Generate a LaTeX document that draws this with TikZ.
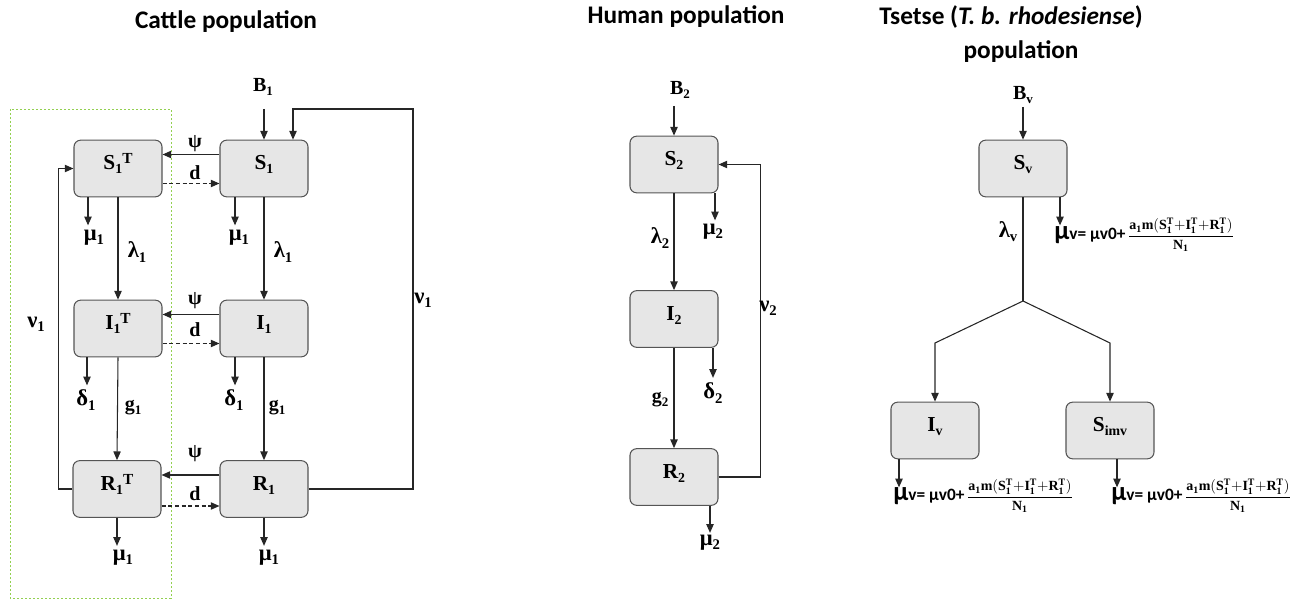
\documentclass[tikz,border=0pt]{standalone}
\usepackage{fontspec}
\setmainfont{Liberation Serif}
\newfontfamily\titlefont{Carlito}
\usetikzlibrary{arrows.meta,calc}

\definecolor{boxfill}{HTML}{E6E6E6}
\definecolor{boxline}{HTML}{555555}
\definecolor{grpgreen}{HTML}{92D050}

% lowered and raised indices in running text
\newcommand\lo[1]{\raisebox{-0.4ex}{\scalebox{0.65}{#1}}}
\newcommand\hi[1]{\raisebox{0.6ex}{\scalebox{0.72}{#1}}}
% mortality of the vector population
\newcommand\muvformula{{\titlefont\bfseries{\fontsize{20}{20}\selectfont μ}{\fontsize{13}{13}\selectfont v= μv0+}}\,{\fontsize{10.5}{12}\selectfont$\displaystyle\frac{\mathbf{a_1m(S_1^T{+}I_1^T{+}R_1^T)}}{\mathbf{N_1}}$}}

\tikzset{
  box/.style={draw=boxline, fill=boxfill, rounded corners=5pt, line width=0.8pt,
    minimum width=66pt, minimum height=42.5pt, inner sep=0pt,
    text height=10pt, text depth=8pt, font=\fontsize{16}{16}\selectfont\bfseries},
  lbl/.style={inner sep=0pt, font=\fontsize{15}{15}\selectfont\bfseries},
  glbl/.style={inner sep=0pt, font=\fontsize{17}{17}\selectfont\bfseries},
  ttl/.style={inner sep=0pt, font=\titlefont\fontsize{19}{19}\selectfont\bfseries},
  ln/.style={draw=black!85, line width=0.8pt},
  arr/.style={ln, -{Triangle[length=6.5pt,width=5.5pt]}},
  darr/.style={arr, dash pattern=on 3pt off 2pt},
  grp/.style={draw=grpgreen, line width=0.7pt, dash pattern=on 1.5pt off 1.5pt},
}

\begin{document}
\begin{tikzpicture}[x=0.75pt,y=-0.75pt]
\useasboundingbox (0,0) rectangle (1310,599);

% ---------- titles ----------
\node[ttl] (tC) at (226,22) {Cattle population};
\node[ttl] (tH) at (686,17) {Human population};
\node[ttl] (tT) at (1011,17) {Tsetse (\textit{T. b. rhodesiense})};
\node[ttl] (tT2) at (1021,52) {population};

% ---------- cattle ----------
\draw[grp] (10,109) rectangle (171,598);

\node[box] (S1T) at (118,168.5) {S\lo{1}\hi{T}};
\node[box] (S1)  at (264,168.5) {S\lo{1}};
\node[box] (I1T) at (118,328.5) {I\lo{1}\hi{T}};
\node[box] (I1)  at (264,328.5) {I\lo{1}};
\node[box] (R1T) at (117,489) {R\lo{1}\hi{T}};
\node[box] (R1)  at (264,489) {R\lo{1}};

\node[lbl] (B1) at (263,87) {B\lo{1}};
\coordinate (B1in) at (264,109);
\draw[arr] (B1in) -- (S1.north);

% exchange between the two groups
\node[lbl] (psiA) at (195,144) {ψ};
\node[lbl] (dA)   at (195,173) {d};
\node[lbl] (psiB) at (195,301) {ψ};
\node[lbl] (dB)   at (195,330) {d};
\node[lbl] (psiC) at (195,454) {ψ};
\node[lbl] (dC)   at (195,494) {d};
\draw[arr]  ($(S1.west)+(0,-14)$) -- ($(S1T.east)+(0,-14)$);
\draw[darr] ($(S1T.east)+(0,15)$) -- ($(S1.west)+(0,15)$);
\draw[arr]  ($(I1.west)+(0,-14)$) -- ($(I1T.east)+(0,-14)$);
\draw[darr] ($(I1T.east)+(0,15)$) -- ($(I1.west)+(0,15)$);
\draw[arr]  ($(R1.west)+(0,-14)$) -- ($(R1T.east)+(0,-14)$);
\draw[darr] ($(R1T.east)+(0,17)$) -- ($(R1.west)+(0,17)$);

% progression
\draw[arr] (S1T.south) -- (I1T.north);
\draw[arr] (I1T.south) -- (R1T.north);
\draw[arr] (S1.south) -- (I1.north);
\draw[arr] (I1.south) -- (R1.north);
\node[glbl] (lamA) at (137,252) {λ\lo{1}};
\node[glbl] (lamB) at (283,252) {λ\lo{1}};
\node[lbl] (gA) at (133,408) {g\lo{1}};
\node[lbl] (gB) at (277,408) {g\lo{1}};

% losses
\draw[arr] ($(S1T.south)+(-30,0)$) -- ++(0,28);
\draw[arr] ($(S1.south)+(-29,0)$) -- ++(0,28);
\draw[arr] ($(I1T.south)+(-31,0)$) -- ++(0,28);
\draw[arr] ($(I1.south)+(-29,0)$) -- ++(0,28);
\draw[arr] (R1T.south) -- ++(0,28);
\draw[arr] (R1.south) -- ++(0,28);
\node[glbl] (muA) at (94,238) {μ\lo{1}};
\node[glbl] (muB) at (239,238) {μ\lo{1}};
\node[glbl] (deA) at (86,400) {δ\lo{1}};
\node[glbl] (deB) at (234,400) {δ\lo{1}};
\node[glbl] (muC) at (123,558) {μ\lo{1}};
\node[glbl] (muD) at (269,558) {μ\lo{1}};

% loss of immunity
\coordinate (v1top) at (413,109);
\draw[arr] (R1.east) -| (v1top) -| ($(S1.north)+(29,0)$);
\draw[arr] (R1T.west) -- ++(-14,0) |- (S1T.west);
\node[glbl] (nuA) at (423,300) {ν\lo{1}};
\node[glbl] (nuB) at (36,324) {ν\lo{1}};

% ---------- human ----------
\node[box] (S2) at (674,164.5) {S\lo{2}};
\node[box] (I2) at (674,319) {I\lo{2}};
\node[box] (R2) at (674,477) {R\lo{2}};

\node[lbl] (B2) at (680,90) {B\lo{2}};
\coordinate (B2in) at (674,106);
\draw[arr] (B2in) -- (S2.north);

\draw[arr] (S2.south) -- (I2.north);
\draw[arr] (I2.south) -- (R2.north);
\node[glbl] (lam2) at (660,238) {λ\lo{2}};
\node[lbl] (g2) at (660,400) {g\lo{2}};

\draw[arr] ($(S2.south)+(41,0)$) -- ++(0,27);
\draw[arr] ($(I2.south)+(39,0)$) -- ++(0,30);
\draw[arr] ($(R2.south)+(36,0)$) -- ++(0,27);
\node[glbl] (mu2a) at (713,232) {μ\lo{2}};
\node[glbl] (de2)  at (713,393) {δ\lo{2}};
\node[glbl] (mu2b) at (710,543) {μ\lo{2}};

\draw[arr] (R2.east) -- ++(42,0) |- (S2.east);
\node[glbl] (nu2) at (768,308) {ν\lo{2}};

% ---------- tsetse ----------
\node[box] (Sv)   at (1023,168.5) {S\lo{v}};
\node[box] (Iv)   at (935,430.5) {I\lo{v}};
\node[box] (Simv) at (1110,430.5) {S\lo{imv}};

\node[lbl] (Bv) at (1023,95) {B\lo{v}};
\coordinate (Bvin) at (1023,107);
\draw[arr] (Bvin) -- (Sv.north);

\coordinate (J)  at (1023,301);
\coordinate (JL) at (935,343);
\coordinate (JR) at (1110,343);
\draw[ln] (Sv.south) -- (J);
\draw[arr] (J) -- (JL) -- (Iv.north);
\draw[arr] (J) -- (JR) -- (Simv.north);
\node[glbl] (lamv) at (1008,232) {λ\lo{v}};

\draw[arr] ($(Sv.south)+(37,0)$) -- ++(0,28);
\draw[arr] ($(Iv.south)+(-36,0)$) -- ++(0,28);
\draw[arr] ($(Simv.south)+(7,0)$) -- ++(0,28);
\node[inner sep=0pt, anchor=west] (muvS) at (1054,235) {\muvformula};
\node[inner sep=0pt, anchor=west] (muvI) at (893,496) {\muvformula};
\node[inner sep=0pt, anchor=west] (muvM) at (1111,496) {\muvformula};
\end{tikzpicture}
\end{document}
